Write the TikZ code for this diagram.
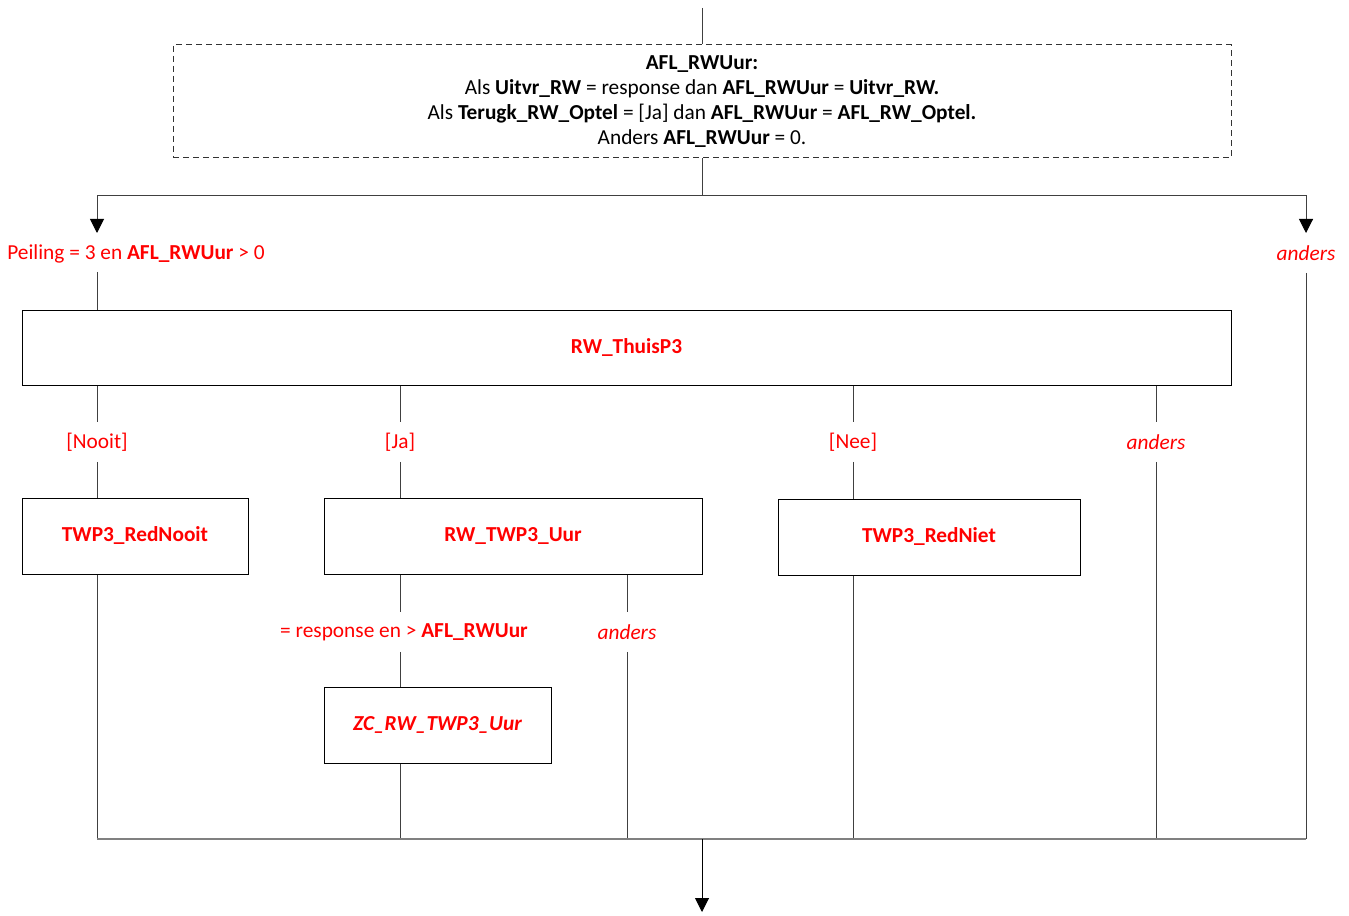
\documentclass[tikz,border=0pt]{standalone}
\usepackage{fontspec}
\setmainfont{Carlito}
\usetikzlibrary{arrows.meta}
\definecolor{lblred}{RGB}{255,0,0}
\definecolor{lngray}{RGB}{64,64,64}
\newcommand{\basefont}{\fontsize{16}{18.75}\selectfont}
\begin{document}
\begin{tikzpicture}[x=0.75pt,y=-0.75pt,
  font=\basefont,
  box/.style={draw=black, line width=0.75pt, fill=white, inner sep=0pt, text=lblred, font=\basefont\bfseries},
  dbox/.style={draw=black!80, dashed, dash pattern=on 4.5pt off 3pt, line width=0.75pt, fill=white, inner sep=0pt, align=center},
  lab/.style={text=lblred, inner sep=0pt, minimum height=29.25pt},
  ilab/.style={lab, font=\basefont\itshape},
  conn/.style={draw=lngray, line width=0.75pt},
  joinline/.style={draw=black!50, line width=1.4pt},
  arr/.style={conn, -{Triangle[length=10.5pt,width=10.5pt,color=black]}}]
\useasboundingbox (0,0) rectangle (1349,916);

% boxes
\node[dbox, minimum width=793.5pt, minimum height=84.75pt] (afl) at (702,101.5)
  {\textbf{AFL\_RWUur:}\\
   Als \textbf{Uitvr\_RW} = response dan \textbf{AFL\_RWUur} = \textbf{Uitvr\_RW.}\\
   Als \textbf{Terugk\_RW\_Optel} = [Ja] dan \textbf{AFL\_RWUur} = \textbf{AFL\_RW\_Optel.}\\
   Anders \textbf{AFL\_RWUur} = 0.};
\node[box, minimum width=906.75pt, minimum height=56.25pt] (rw) at (626.5,347.5) {RW\_ThuisP3};
\node[box, minimum width=169.5pt, minimum height=57pt] (nooitbox) at (135,536) {TWP3\_RedNooit};
\node[box, minimum width=283.5pt, minimum height=57pt] (uur) at (513,536) {RW\_TWP3\_Uur};
\node[box, minimum width=226.5pt, minimum height=57pt] (niet) at (929,537) {TWP3\_RedNiet};
\node[box, minimum width=170.25pt, minimum height=57pt, font=\basefont\bfseries\itshape] (zc) at (437.5,725) {ZC\_RW\_TWP3\_Uur};

% labels
\node[lab] (peil) at (136,254) {Peiling = 3 en \textbf{AFL\_RWUur} > 0};
\node[ilab] (andR) at (1306,253) {anders};
\node[lab] (nooit) at (97,442) {[Nooit]};
\node[lab] (ja) at (400,442) {[Ja]};
\node[lab] (nee) at (853,442) {[Nee]};
\node[ilab] (and1) at (1156,442) {anders};
\node[lab] (resp) at (404,632) {= response en > \textbf{AFL\_RWUur}};
\node[ilab] (and2) at (627,632) {anders};

% coordinates
\coordinate (top) at (702,8);
\coordinate (split) at (702,196);
\coordinate (aL) at (97,233);
\coordinate (aR) at (1306,233);
\coordinate (pL) at (97,272);
\coordinate (jL) at (97,839);
\coordinate (jR) at (1306,839);
\coordinate (join) at (702,839);
\coordinate (out) at (702,912);

% connectors
\draw[conn] (top) -- (afl.north);
\draw[conn] (afl.south) -- (split);
\draw[arr] (split) -| (aL);
\draw[arr] (split) -| (aR);
\draw[conn] (pL) -- (pL |- rw.north);

\draw[conn] (rw.south -| nooit) -- (nooit.north);
\draw[conn] (nooit.south) -- (nooitbox.north -| nooit);
\draw[conn] (nooitbox.south -| nooit) -- (jL);

\draw[conn] (rw.south -| ja) -- (ja.north);
\draw[conn] (ja.south) -- (uur.north -| ja);
\draw[conn] (uur.south -| ja) -- (ja |- resp.north);
\draw[conn] (ja |- resp.south) -- (ja |- zc.north);
\draw[conn] (ja |- zc.south) -- (ja |- join);

\draw[conn] (uur.south -| and2) -- (and2.north);
\draw[conn] (and2.south) -- (and2 |- join);

\draw[conn] (rw.south -| nee) -- (nee.north);
\draw[conn] (nee.south) -- (niet.north -| nee);
\draw[conn] (niet.south -| nee) -- (nee |- join);

\draw[conn] (rw.south -| and1) -- (and1.north);
\draw[conn] (and1.south) -- (and1 |- join);

\draw[conn] (andR.south) -- (jR);

\draw[joinline] (jL) -- (jR);
\draw[arr, draw=black] (join) -- (out);
\end{tikzpicture}
\end{document}
